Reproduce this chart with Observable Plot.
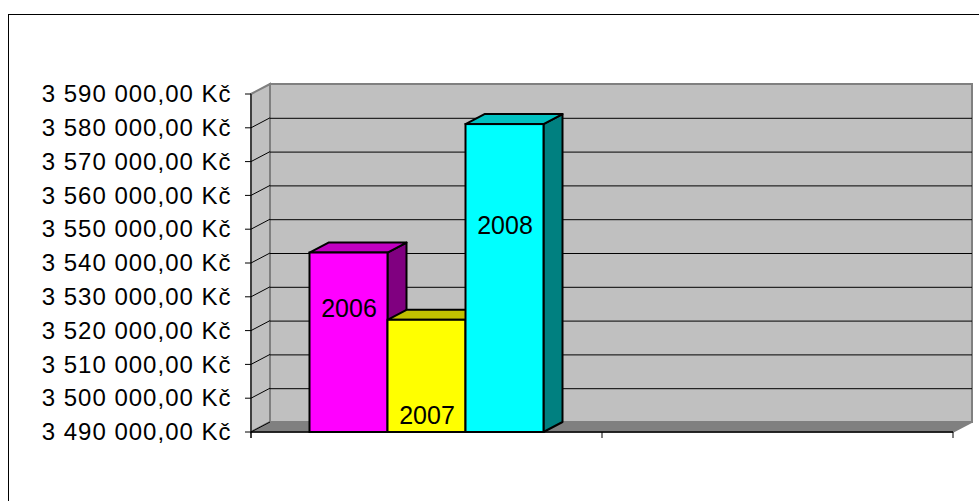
<!DOCTYPE html>
<html>
<head>
<meta charset="utf-8">
<script src="https://cdn.jsdelivr.net/npm/d3@7"></script>
<script src="https://cdn.jsdelivr.net/npm/@observablehq/plot@0.6"></script>
<style>
html, body { margin: 0; padding: 0; background: #fff; }
svg { display: block; }
</style>
</head>
<body>
<div id="chart"></div>
<script>
// ---- data ----
const years = ["2006", "2007", "2008"];
const amounts = [3543100, 3523200, 3581100];
const categoryEdges = [0, 1, 2];
const yTicks = [3490000, 3500000, 3510000, 3520000, 3530000, 3540000, 3550000, 3560000, 3570000, 3580000, 3590000];
const faceColors = ["#FF00FF", "#FFFF00", "#00FFFF"];
const topColors = ["#C000C0", "#C0C000", "#00C0C0"];
const sideColors = ["#800080", "#808000", "#008080"];

// ---- layout / style ----
const W = 979, H = 501;
const DX = 19, DY = -10;            // 3D depth offset in pixels
const FONT = "'Liberation Sans', Arial, sans-serif";
const labelDropPx = [56, 96, 101];  // label offset below bar top
const yMin = yTicks[0], yMax = yTicks[yTicks.length - 1];
const gapWidth = 0.5;
const groupW = 1 / (1 + gapWidth);
const barW = groupW / years.length;

const czk = d3.formatLocale({decimal: ",", thousands: " ", grouping: [3], currency: ["", " Kč"]}).format("$,.2f");

const bars = years.map((year, i) => ({
  year, value: amounts[i],
  x1: 0.5 - groupW / 2 + i * barW,
  x2: 0.5 - groupW / 2 + (i + 1) * barW,
  face: faceColors[i], top: topColors[i], side: sideColors[i]
}));

function shapes(draw) {
  return (index, scales) => {
    const g = d3.create("svg:g");
    draw(g, scales.x, scales.y);
    return g.node();
  };
}
const pts = (arr) => arr.map(p => p.join(",")).join(" ");

const xEnd = categoryEdges[categoryEdges.length - 1];

const chart = Plot.plot({
  width: W,
  height: H,
  marginLeft: 251,
  marginRight: 26,
  marginTop: 94,
  marginBottom: 69,
  x: {domain: [0, xEnd], axis: null},
  y: {domain: [yMin, yMax], axis: null},
  style: {fontFamily: FONT, background: "#fff", overflow: "visible"},
  marks: [
    // outer chart frame
    shapes((g) => {
      g.append("rect").attr("x", 8.5).attr("y", 14.5).attr("width", W).attr("height", H)
        .attr("fill", "none").attr("stroke", "#000").attr("stroke-width", 1);
    }),
    // back wall
    Plot.rect([0], {x1: () => 0, x2: () => xEnd, y1: () => yMin, y2: () => yMax, dx: DX, dy: DY,
      fill: "#C0C0C0", stroke: "#808080", strokeWidth: 2}),
    // left wall and floor
    shapes((g, x, y) => {
      const x0 = x(0), x2 = x(xEnd), yt = y(yMax), yb = y(yMin);
      g.append("polygon").attr("points", pts([[x0, yt], [x0 + DX, yt + DY], [x0 + DX, yb + DY], [x0, yb]]))
        .attr("fill", "#C0C0C0").attr("stroke", "#808080").attr("stroke-width", 2);
      g.append("polygon").attr("points", pts([[x0, yb], [x2, yb], [x2 + DX, yb + DY], [x0 + DX, yb + DY]]))
        .attr("fill", "#808080").attr("stroke", "#808080").attr("stroke-width", 1.5);
    }),
    // back wall gridlines
    Plot.ruleY(yTicks.slice(1, -1), {x1: () => 0, x2: () => xEnd, dx: DX, dy: DY, stroke: "#000", strokeWidth: 1}),
    // left wall diagonals, axis line and ticks
    shapes((g, x, y) => {
      const x0 = x(0);
      for (const t of yTicks.slice(0, -1)) {
        g.append("line").attr("x1", x0).attr("y1", y(t)).attr("x2", x0 + DX).attr("y2", y(t) + DY)
          .attr("stroke", "#000").attr("stroke-width", 1);
      }
      for (const t of yTicks) {
        g.append("line").attr("x1", x0 - 6).attr("y1", y(t)).attr("x2", x0).attr("y2", y(t))
          .attr("stroke", "#000").attr("stroke-width", 1);
      }
      g.append("line").attr("x1", x0).attr("y1", y(yMax)).attr("x2", x0).attr("y2", y(yMin) + 6)
        .attr("stroke", "#000").attr("stroke-width", 1);
      g.append("line").attr("x1", x0).attr("y1", y(yMin)).attr("x2", x(xEnd)).attr("y2", y(yMin))
        .attr("stroke", "#000").attr("stroke-width", 1.5);
      for (const c of categoryEdges) {
        g.append("line").attr("x1", x(c)).attr("y1", y(yMin)).attr("x2", x(c)).attr("y2", y(yMin) + 6)
          .attr("stroke", "#000").attr("stroke-width", 1);
      }
    }),
    // bar sides and tops
    shapes((g, x, y) => {
      for (const b of bars) {
        const l = x(b.x1), r = x(b.x2), t = y(b.value), bt = y(yMin);
        g.append("polygon").attr("points", pts([[r, t], [r + DX, t + DY], [r + DX, bt + DY], [r, bt]]))
          .attr("fill", b.side).attr("stroke", "#000").attr("stroke-width", 2).attr("stroke-linejoin", "round");
        g.append("polygon").attr("points", pts([[l, t], [l + DX, t + DY], [r + DX, t + DY], [r, t]]))
          .attr("fill", b.top).attr("stroke", "#000").attr("stroke-width", 2).attr("stroke-linejoin", "round");
      }
    }),
    // bar fronts
    Plot.rectY(bars, {x1: "x1", x2: "x2", y1: () => yMin, y2: "value", fill: "face", stroke: "#000", strokeWidth: 2}),
    // bar labels
    ...bars.map((b, i) => Plot.text([b], {x: d => (d.x1 + d.x2) / 2, y: "value", text: "year",
      dy: labelDropPx[i], fontSize: 25, fill: "#000"})),
    // y tick labels
    Plot.text(yTicks, {x: () => 0, y: d => d, text: d => czk(d), textAnchor: "end", dx: -20, fontSize: 24, fill: "#000"})
  ]
});

// slightly wider tracking on the value-axis labels (last text mark)
const textGroups = chart.querySelectorAll('g[aria-label="text"]');
if (textGroups.length) textGroups[textGroups.length - 1].style.letterSpacing = "1px";

document.getElementById("chart").appendChild(chart);
</script>
</body>
</html>
